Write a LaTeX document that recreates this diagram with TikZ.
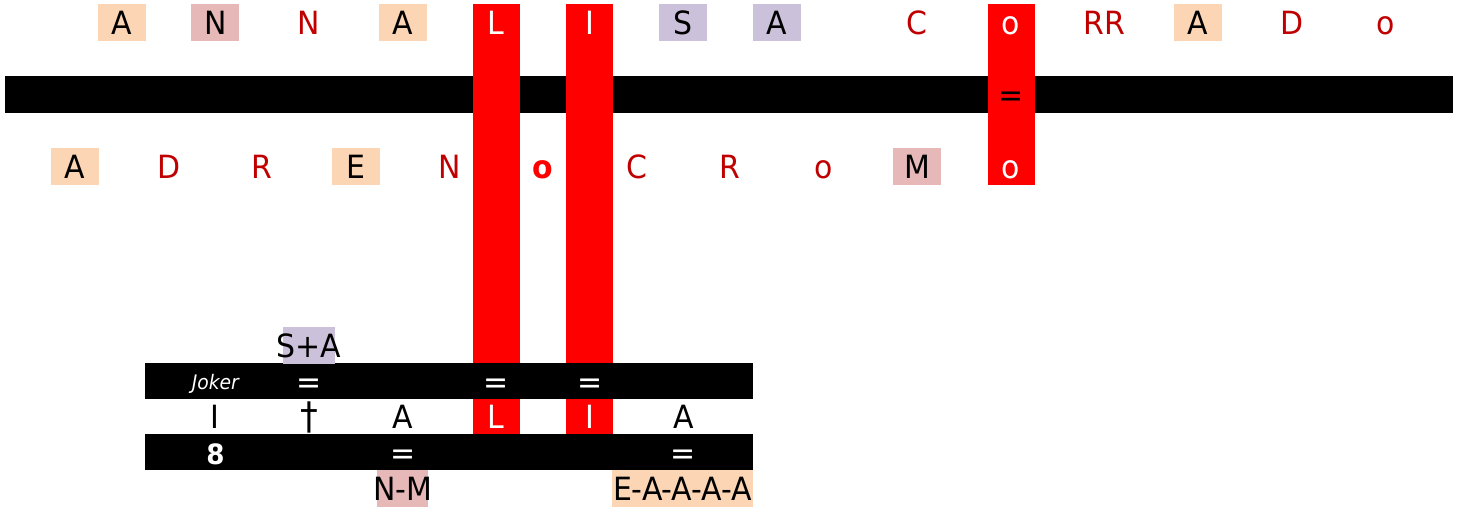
\documentclass[tikz,border=0pt]{standalone}
\usepackage{fontspec}
\setmainfont{DejaVu Sans Condensed}[FakeStretch=1.04]

\definecolor{peachbg}{HTML}{FCD5B5}
\definecolor{rosebg}{HTML}{E6B9B8}
\definecolor{lilacbg}{HTML}{CCC1DA}
\definecolor{darkred}{HTML}{C00000}

\providecommand{\letterfont}{\fontsize{16pt}{18pt}\selectfont}
\providecommand{\jokerfont}{\fontsize{10pt}{12pt}\selectfont\itshape}
\providecommand{\eightfont}{\fontsize{14pt}{16pt}\selectfont\bfseries}
\providecommand{\daggerfont}{\fontsize{19pt}{21pt}\selectfont}

\tikzset{
    cell/.style={minimum width=24pt,minimum height=18.5pt,inner sep=0pt,text height=12pt,text depth=0pt,font=\letterfont},
    peach/.style={cell,fill=peachbg},
    rose/.style={cell,fill=rosebg},
    lilac/.style={cell,fill=lilacbg},
    redletter/.style={cell,text=darkred},
    boldred/.style={cell,text=red,font=\letterfont\bfseries},
    onred/.style={cell,text=white},
    blank/.style={cell},
}

\begin{document}
\begin{tikzpicture}[x=0.5pt,y=-0.5pt]
    \pgfmathsetmacro{\colzero}{75}
    \pgfmathsetmacro{\colstep}{46.8}
    \pgfmathsetmacro{\halfcell}{23.5}
    \useasboundingbox (0,0) rectangle (1457,514);
    % long bar and the three red columns
    \fill (5,76) rectangle (1453,113);
    \fill[red] (\colzero+9*\colstep-\halfcell,4) rectangle (\colzero+9*\colstep+\halfcell,434);
    \fill[red] (\colzero+11*\colstep-\halfcell,4) rectangle (\colzero+11*\colstep+\halfcell,434);
    \fill[red] (\colzero+20*\colstep-\halfcell,4) rectangle (\colzero+20*\colstep+\halfcell,185);
    % the two bars of the small table
    \fill (145,363) rectangle (753,399);
    \fill (145,434) rectangle (753,470);
    % upper line
    \foreach \k/\t/\s [count=\i] in {1/A/peach,3/N/rose,5/N/redletter,7/A/peach,9/L/onred,11/I/onred,13/S/lilac,15/A/lilac,18/C/redletter,20/o/onred,22/RR/redletter,24/A/peach,26/D/redletter,28/o/redletter}
        \node[\s] (top\i) at (\colzero+\k*\colstep,22.5) {\t};
    \node[cell] (topeq) at (\colzero+20*\colstep,94.5) {=};
    % lower line
    \foreach \k/\t/\s [count=\i] in {0/A/peach,2/D/redletter,4/R/redletter,6/E/peach,8/N/redletter,10/o/boldred,12/C/redletter,14/R/redletter,16/o/redletter,18/M/rose,20/o/onred}
        \node[\s] (low\i) at (\colzero+\k*\colstep,166.5) {\t};
    % small table
    \node[lilac,inner xsep=-3pt] (sa) at (\colzero+5*\colstep,345) {S+A};
    \node[onred,font=\jokerfont,text height=8pt] (joker) at (\colzero+3*\colstep,381) {Joker};
    \foreach \k [count=\i] in {5,9,11}
        \node[onred] (eqa\i) at (\colzero+\k*\colstep,381) {=};
    \foreach \k/\t/\s [count=\i] in {3/I/blank,7/A/blank,9/L/onred,11/I/onred,13/A/blank}
        \node[\s] (mid\i) at (\colzero+\k*\colstep,416.5) {\t};
    \node[cell,font=\daggerfont,text height=12.5pt] (dagger) at (\colzero+5*\colstep,416.5) {†};
    \node[onred,font=\eightfont] (eight) at (\colzero+3*\colstep,452) {8};
    \foreach \k [count=\i] in {7,13}
        \node[onred] (eqb\i) at (\colzero+\k*\colstep,452) {=};
    \node[rose,inner xsep=-2pt] (nm) at (\colzero+7*\colstep,488) {N-M};
    \node[peach,minimum width=70.5pt] (eaaaa) at (682.5,488) {E-A-A-A-A};
\end{tikzpicture}
\end{document}
